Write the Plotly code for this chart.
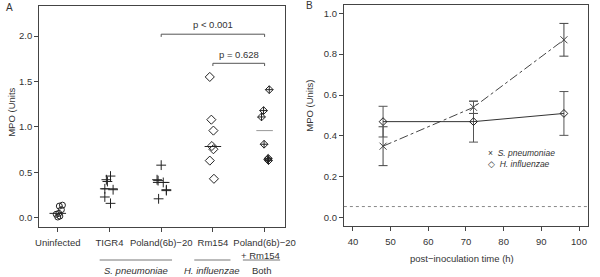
import plotly.graph_objects as go

# ---------------- Panel A data ----------------
categories = ["Uninfected", "TIGR4", "Poland(6b)−20", "Rm154", "Poland(6b)−20"]
uninfected_vals = [0.14, 0.13, 0.09, 0.05, 0.04, 0.02, 0.01]
uninfected_jit = [0.09, 0.03, 0.07, 0.02, -0.03, 0.04, 0.0]
tigr4_vals = [0.46, 0.42, 0.40, 0.32, 0.31, 0.23, 0.16]
tigr4_jit = [0.02, -0.06, -0.04, -0.09, 0.07, -0.09, 0.02]
poland_vals = [0.58, 0.42, 0.41, 0.39, 0.31, 0.30, 0.21]
poland_jit = [0.0, -0.08, -0.06, 0.04, 0.10, 0.10, -0.05]
rm154_vals = [1.55, 1.08, 0.96, 0.79, 0.755, 0.63, 0.43]
rm154_jit = [-0.06, -0.03, 0.01, -0.02, 0.01, -0.06, 0.02]
both_vals = [1.41, 1.18, 1.11, 0.81, 0.655, 0.63, 0.645]
both_jit = [0.09, -0.02, -0.06, -0.01, 0.07, 0.075, 0.06]
center_lines = [0.05, 0.32, 0.39, 0.785, 0.96]
pvalue_labels = ["p < 0.001", "p = 0.628"]
a_yticks = [0.0, 0.5, 1.0, 1.5, 2.0]

# ---------------- Panel B data ----------------
times = [48, 72, 96]
spn_mean = [0.35, 0.54, 0.87]
spn_err = [0.095, 0.03, 0.08]
hin_mean = [0.47, 0.47, 0.51]
hin_err = [0.075, 0.10, 0.107]
baseline = 0.055
b_xticks = [40, 50, 60, 70, 80, 90, 100]
b_yticks = [0.0, 0.2, 0.4, 0.6, 0.8, 1.0]
legend_labels = ["S. pneumoniae", "H. influenzae"]

FONT = "Liberation Sans, Arial, sans-serif"
TXT = "#333333"
FRAME = "#444444"

fig = go.Figure()

groups = [
    (1, uninfected_vals, uninfected_jit, "circle-open", 6),
    (2, tigr4_vals, tigr4_jit, "cross-thin-open", 7),
    (3, poland_vals, poland_jit, "cross-thin-open", 7),
    (4, rm154_vals, rm154_jit, "diamond-open", 7),
    (5, both_vals, both_jit, "diamond-cross-open", 6),
]
for pos, vals, jit, sym, sz in groups:
    fig.add_trace(go.Scatter(
        x=[pos + j for j in jit], y=vals, mode="markers",
        marker=dict(symbol=sym, size=sz, color="#222222",
                    line=dict(width=1, color="#222222")),
        xaxis="x", yaxis="y", showlegend=False, hoverinfo="skip"))

# center lines
hw = 0.16
for i, m in enumerate(center_lines):
    pos = i + 1
    col = "#999999" if i == 4 else "#222222"
    fig.add_trace(go.Scatter(x=[pos - hw, pos + hw], y=[m, m], mode="lines",
                             line=dict(color=col, width=1),
                             xaxis="x", yaxis="y", showlegend=False, hoverinfo="skip"))

# Panel B traces
fig.add_trace(go.Scatter(
    x=times, y=spn_mean, mode="lines+markers",
    line=dict(color="#444444", width=1, dash="dashdot"),
    marker=dict(symbol="x-thin-open", size=7, line=dict(width=1, color="#222222")),
    error_y=dict(type="data", array=spn_err, color="#444444", thickness=1, width=4.5),
    xaxis="x2", yaxis="y2", showlegend=False, hoverinfo="skip"))
fig.add_trace(go.Scatter(
    x=times, y=hin_mean, mode="lines+markers",
    line=dict(color="#333333", width=1),
    marker=dict(symbol="diamond-open", size=6, color="#222222", line=dict(width=1, color="#222222")),
    error_y=dict(type="data", array=hin_err, color="#555555", thickness=1, width=4.5),
    xaxis="x2", yaxis="y2", showlegend=False, hoverinfo="skip"))

shapes = []
# baseline dashed
shapes.append(dict(type="line", xref="x2 domain", yref="y2", x0=0, x1=1, y0=baseline, y1=baseline,
                   line=dict(color="#888888", width=1, dash="3px,3px")))
# p-value brackets
brackets = [(3, 5, 2.02, 2.13), (4, 5, 1.70, 1.80)]
annotations = []


def ann(x, y, text, xref="paper", yref="paper", size=9.5, **kw):
    d = dict(x=x, y=y, xref=xref, yref=yref, text=text, showarrow=False,
             xanchor="center", yanchor="middle",
             font=dict(size=size, color=TXT, family=FONT))
    d.update(kw)
    return d


for (x0, x1, yb, yt), lab in zip(brackets, pvalue_labels):
    shapes.append(dict(type="line", xref="x", yref="y", x0=x0, x1=x1, y0=yb, y1=yb,
                       line=dict(color="#555555", width=1)))
    for xx in (x0, x1):
        shapes.append(dict(type="line", xref="x", yref="y", x0=xx, x1=xx, y0=yb, y1=yb - 0.03,
                           line=dict(color="#555555", width=1)))
    annotations.append(ann((x0 + x1) / 2, yt, lab, xref="x", yref="y"))

# group lines and labels
group_lines = [(1.81, 3.21, "<i>S. pneumoniae</i>", 2.51),
               (3.64, 4.34, "<i>H. influenzae</i>", 3.98),
               (4.58, 5.30, "Both", 4.94)]
for x0, x1, lab, xc in group_lines:
    shapes.append(dict(type="line", xref="x", yref="paper", x0=x0, x1=x1, y0=1 - 260/277, y1=1 - 260/277,
                       line=dict(color="#777777", width=1)))
    annotations.append(ann(xc, 1 - 270/277, lab, xref="x"))
annotations.append(ann(4.92, 1 - 255/277, "+ Rm154", xref="x"))

legend_text = "×  <i>%s</i><br>◇  <i>%s</i>" % tuple(legend_labels)

# panel labels & titles
annotations += [
    ann(6/600, 1 - 8/277, "A", size=10),
    ann(313/600, 1 - 6/277, "B", size=10),
    ann(8/600, 1 - 112/277, "MPO (Units", textangle=-90),
    ann(312/600, 1 - 106/277, "MPO (Units)", textangle=-90),
    ann(469/600, 1 - 258/277, "post−inoculation time (h)"),
    ann(494/600, 1 - 158/277, legend_text, size=8.5, xanchor="left", align="left"),
]

axis_common = dict(showline=True, mirror=True, linecolor=FRAME, linewidth=1, ticks="outside",
                   ticklen=4, tickcolor=FRAME, showgrid=False, zeroline=False,
                   tickfont=dict(size=9.5, color=TXT, family=FONT))

fig.update_layout(
    width=600, height=277, margin=dict(l=0, r=0, t=0, b=0),
    paper_bgcolor="white", plot_bgcolor="white",
    xaxis=dict(domain=[36/600, 288/600], range=[0.64, 5.4], tickvals=[1, 2, 3, 4, 5],
               ticktext=categories, anchor="y", ticklabelstandoff=3, **axis_common),
    yaxis=dict(domain=[50/277, 271/277], range=[-0.1, 2.33], tickvals=a_yticks,
               tickformat=".1f", anchor="x", **axis_common),
    xaxis2=dict(domain=[348/600, 598/600], range=[37.6, 102.4], tickvals=b_xticks,
                anchor="y2", ticklabelstandoff=3, **axis_common),
    yaxis2=dict(domain=[51/277, 272/277], range=[-0.04, 1.04], tickvals=b_yticks,
                tickformat=".1f", anchor="x2", **axis_common),
    shapes=shapes, annotations=annotations, showlegend=False,
)

fig.write_html("out.html", config={"displayModeBar": False},
               post_script="document.body.style.margin='0px';document.body.style.overflow='hidden';")
